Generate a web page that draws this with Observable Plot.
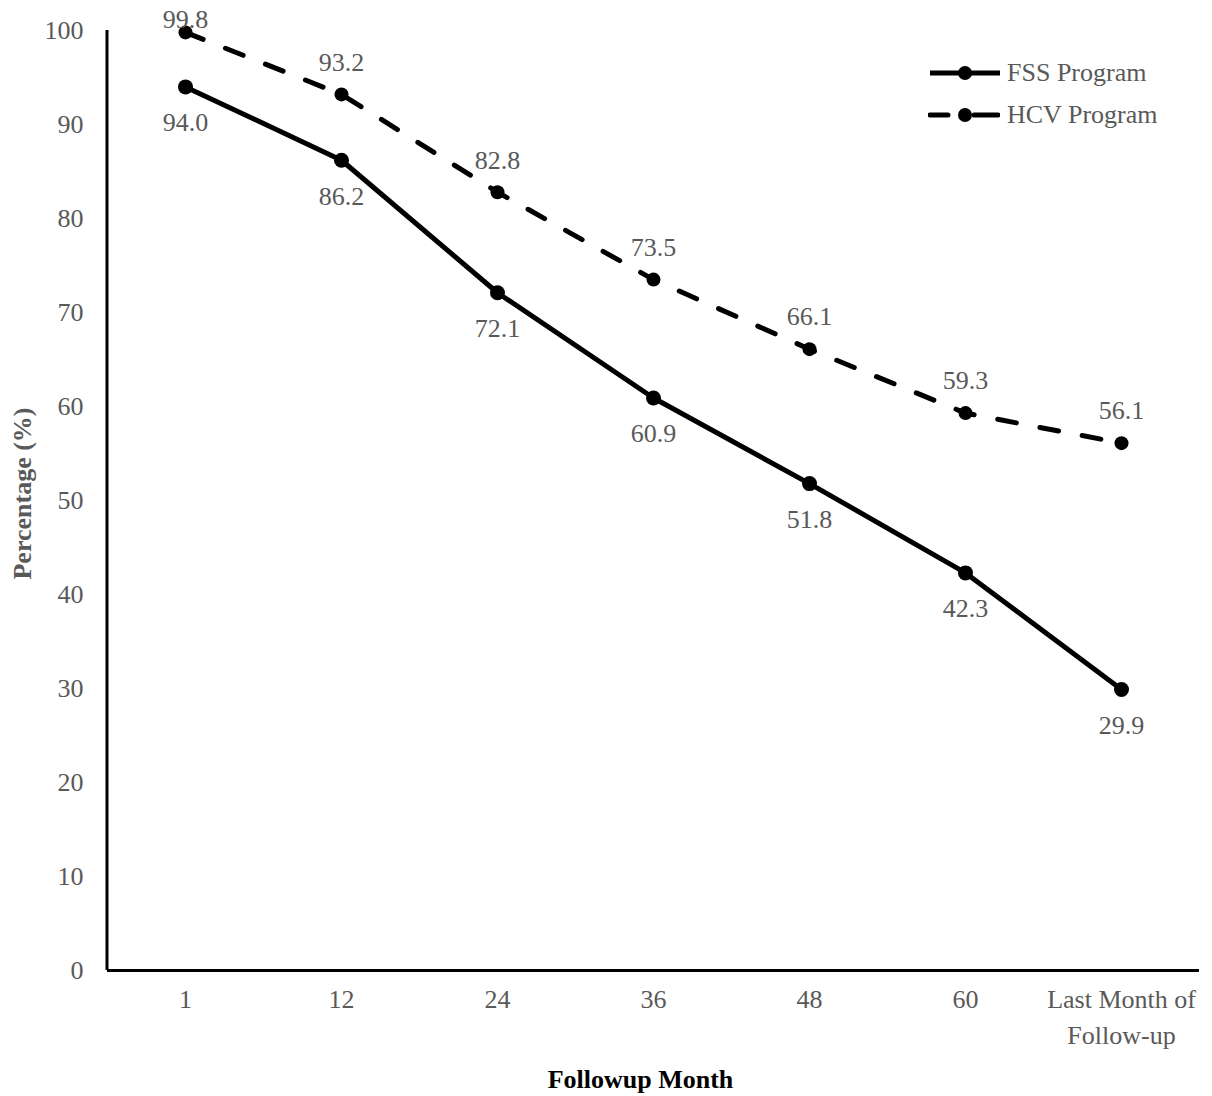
<!DOCTYPE html>
<html>
<head>
<meta charset="utf-8">
<script src="https://cdn.jsdelivr.net/npm/d3@7"></script>
<script src="https://cdn.jsdelivr.net/npm/@observablehq/plot@0.6"></script>
<style>
  html, body { margin: 0; padding: 0; background: #fff; }
  #wrap { position: relative; width: 1212px; height: 1096px; }
  #legend { position: absolute; left: 928px; top: 52px; font-family: "Liberation Serif", serif; font-size: 26px; color: #595959; }
  #legend .row { display: flex; align-items: center; height: 42px; }
  #legend svg { margin-right: 7px; }
</style>
</head>
<body>
<div id="wrap">
  <div id="chart"></div>
  <div id="legend"></div>
</div>
<script>
const months = ["1", "12", "24", "36", "48", "60", "Last"];
const monthLabels = ["1", "12", "24", "36", "48", "60", "Last Month of\nFollow-up"];
const fssValues = [94.0, 86.2, 72.1, 60.9, 51.8, 42.3, 29.9];
const hcvValues = [99.8, 93.2, 82.8, 73.5, 66.1, 59.3, 56.1];
const yTicks = [0, 10, 20, 30, 40, 50, 60, 70, 80, 90, 100];
const seriesNames = ["FSS Program", "HCV Program"];

const fss = months.map((m, i) => ({month: m, value: fssValues[i]}));
const hcv = months.map((m, i) => ({month: m, value: hcvValues[i]}));
const labelMap = new Map(months.map((m, i) => [m, monthLabels[i]]));

const gray = "#595959";

const yAxisLine = (index, scales, values, dims) => {
  const g = d3.create("svg:g");
  g.append("line")
    .attr("x1", dims.marginLeft).attr("x2", dims.marginLeft)
    .attr("y1", dims.marginTop).attr("y2", dims.height - dims.marginBottom)
    .attr("stroke", "black").attr("stroke-width", 3);
  return g.node();
};

const chart = Plot.plot({
  width: 1212,
  height: 1096,
  marginLeft: 107,
  marginRight: 13,
  marginTop: 30,
  marginBottom: 126,
  style: {fontFamily: "'Liberation Serif', serif", fontSize: "26px", color: gray, background: "white"},
  x: {type: "point", domain: months, padding: 0.5},
  y: {domain: [0, 100]},
  marks: [
    Plot.axisY({ticks: yTicks, tickSize: 0, tickPadding: 24, label: null, fill: gray}),
    Plot.axisX({tickSize: 0, tickPadding: 13, label: null, fill: gray, lineHeight: 1.35,
      tickFormat: d => labelMap.get(d)}),
    Plot.ruleY([0], {stroke: "black", strokeWidth: 3}),
    yAxisLine,
    Plot.text(["Percentage (%)"], {frameAnchor: "left", textAnchor: "middle", rotate: -90, dx: -85, dy: -7, fontWeight: "bold", fill: gray}),
    Plot.text(["Followup Month"], {frameAnchor: "bottom", dy: 117, dx: -13, fontWeight: "bold", fill: "black"}),
    Plot.line(hcv, {x: "month", y: "value", stroke: "black", strokeWidth: 5, strokeDasharray: "19,24", strokeLinecap: "round"}),
    Plot.line(fss, {x: "month", y: "value", stroke: "black", strokeWidth: 5}),
    Plot.dot(hcv, {x: "month", y: "value", r: 7, fill: "black"}),
    Plot.dot(fss, {x: "month", y: "value", r: 7.5, fill: "black"}),
    Plot.text(fss, {x: "month", y: "value", text: d => d.value.toFixed(1), dy: 36, fill: gray}),
    Plot.text(hcv.slice(1), {x: "month", y: "value", text: d => d.value.toFixed(1), dy: -32, fill: gray}),
    Plot.text(hcv.slice(0, 1), {x: "month", y: "value", text: d => d.value.toFixed(1), dy: -13, fill: gray})
  ]
});
document.getElementById("chart").appendChild(chart);

// Legend
const legend = d3.select("#legend");
seriesNames.forEach((name, i) => {
  const row = legend.append("div").attr("class", "row");
  const s = row.append("svg").attr("width", 72).attr("height", 20);
  if (i === 0) {
    s.append("line").attr("x1", 2).attr("x2", 72).attr("y1", 10).attr("y2", 10)
      .attr("stroke", "black").attr("stroke-width", 5);
  } else {
    s.append("line").attr("x1", 2).attr("x2", 20).attr("y1", 10).attr("y2", 10)
      .attr("stroke", "black").attr("stroke-width", 5).attr("stroke-linecap", "round");
    s.append("line").attr("x1", 46).attr("x2", 70).attr("y1", 10).attr("y2", 10)
      .attr("stroke", "black").attr("stroke-width", 5).attr("stroke-linecap", "round");
  }
  s.append("circle").attr("cx", 37).attr("cy", 10).attr("r", 7).attr("fill", "black");
  row.append("span").text(name);
});
</script>
</body>
</html>
